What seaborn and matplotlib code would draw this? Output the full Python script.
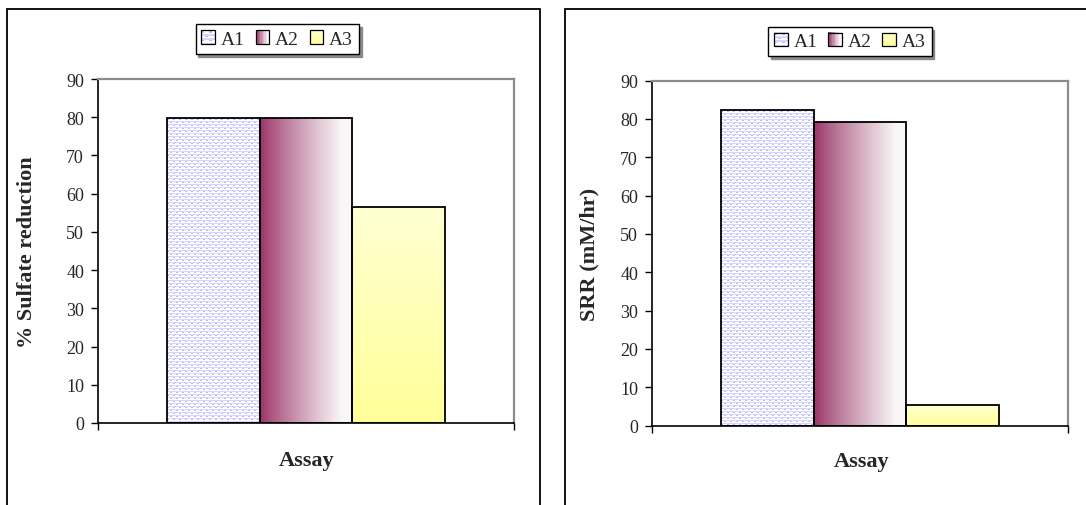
import numpy as np
import pandas as pd
import matplotlib
matplotlib.use("Agg")
import matplotlib.pyplot as plt
import seaborn as sns
from matplotlib.patches import Patch, Rectangle
from matplotlib.legend_handler import HandlerBase
from matplotlib.image import BboxImage
from matplotlib.transforms import Bbox, TransformedBbox

# ---- data ----
assays = ["A1", "A2", "A3"]
sulfate_reduction = [79.7, 79.7, 56.6]   # % sulfate reduction
srr = [82.3, 79.3, 5.4]                  # SRR (mM/hr)
y_ticks = [0, 10, 20, 30, 40, 50, 60, 70, 80, 90]

sns.set_theme(style="white")
plt.rcParams["font.family"] = ["Liberation Serif", "DejaVu Serif"]

W, H = 1086, 506
fig = plt.figure(figsize=(W / 100, H / 100), dpi=100)
fig.patch.set_facecolor("white")


def px_axes(left, right, top, bottom):
    return fig.add_axes([left / W, 1 - bottom / H, (right - left) / W, (bottom - top) / H])


# ---- fill textures ----
def dotted_tile(ny, nx):
    img = np.ones((ny, nx, 3))
    light = np.array([0.84, 0.84, 1.0])
    dark = np.array([0.72, 0.72, 1.0])
    r = np.arange(ny)[:, None]
    c = np.arange(nx)[None, :]
    rr = r % 6
    row_line = (rr == 0) | (rr == 3)
    img[np.broadcast_to(row_line, (ny, nx))] = light
    ticks = ((rr == 1) & (c % 6 < 2)) | ((rr == 4) & ((c + 3) % 6 < 2))
    img[ticks] = dark
    return img


def maroon_fade(ny, nx):
    t = np.linspace(0, 1, nx)
    f = np.clip(t / 0.88, 0, 1) ** 0.85
    start = np.array([0x99, 0x33, 0x66]) / 255
    end = np.array([0xf8, 0xf6, 0xf7]) / 255
    row = start[None, :] * (1 - f[:, None]) + end[None, :] * f[:, None]
    return np.repeat(row[None, :, :], ny, axis=0)


def yellow_fade(ny, nx):
    t = np.linspace(0, 1, ny)
    top = np.array([0xff, 0xff, 0xd2]) / 255
    bot = np.array([0xff, 0xff, 0x99]) / 255
    col = top[None, :] * (1 - t[:, None]) + bot[None, :] * t[:, None]
    return np.repeat(col[:, None, :], nx, axis=1)


fills = [dotted_tile, maroon_fade, yellow_fade]


class ImageHandler(HandlerBase):
    def __init__(self, maker):
        super().__init__()
        self.maker = maker

    def create_artists(self, legend, orig_handle, xdescent, ydescent,
                       width, height, fontsize, trans):
        size = min(width, height)
        x0 = -xdescent + (width - size) / 2
        y0 = -ydescent + (height - size) / 2
        bb = TransformedBbox(Bbox.from_bounds(x0, y0, size, size), trans)
        im = BboxImage(bb, interpolation="nearest", origin="upper")
        im.set_data(self.maker(10, 10))
        rect = Rectangle((x0, y0), size, size, fc="none", ec="black", lw=0.9,
                         transform=trans)
        return [im, rect]


def draw_panel(ax, values, ylabel, legend_anchor):
    df = pd.DataFrame({"Assay": [""] * len(assays), "Series": assays, "value": values})
    sns.barplot(data=df, x="Assay", y="value", hue="Series", hue_order=assays,
                width=0.668, dodge=True, legend=False, ax=ax,
                palette=["white"] * 3, edgecolor="black", linewidth=1.3,
                saturation=1, err_kws={"linewidth": 0})
    ax.set_xlim(-0.5, 0.5)
    ax.set_ylim(0, 90)
    ax.set_yticks(y_ticks)
    ax.set_yticklabels([str(v) for v in y_ticks], fontsize=13)
    ax.set_xticks([-0.5, 0.5])
    ax.set_xticklabels(["", ""])
    ax.tick_params(axis="both", direction="out", length=5, width=1.0,
                   color="black", left=True, bottom=True, pad=5)
    ax.grid(False)
    for side in ("left", "bottom"):
        ax.spines[side].set_color("black")
        ax.spines[side].set_linewidth(1.2)
    for side in ("top", "right"):
        ax.spines[side].set_color("#8c8c8c")
        ax.spines[side].set_linewidth(1.6)
    ax.set_ylabel(ylabel, fontsize=16, fontweight="bold")
    ax.set_xlabel("Assay", fontsize=16, fontweight="bold")

    # texture fills clipped to each bar
    fig.canvas.draw()
    bars = [p for p in ax.patches if p.get_height() > 0]
    bars.sort(key=lambda p: p.get_x())
    for bar, maker in zip(bars, fills):
        bar.set_facecolor("none")
        bar.set_zorder(3)
        ext = bar.get_window_extent()
        nx, ny = max(int(round(ext.width)), 2), max(int(round(ext.height)), 2)
        x0, y0 = bar.get_x(), bar.get_y()
        ax.imshow(maker(ny, nx),
                  extent=(x0, x0 + bar.get_width(), y0, y0 + bar.get_height()),
                  aspect="auto", interpolation="nearest", zorder=2)
    ax.set_xlim(-0.5, 0.5)
    ax.set_ylim(0, 90)

    handles = [Patch(label=a) for a in assays]
    hmap = {h: ImageHandler(m) for h, m in zip(handles, fills)}
    leg = ax.legend(handles=handles, handler_map=hmap, loc="center",
                    bbox_to_anchor=legend_anchor, ncol=3, frameon=True,
                    fontsize=14, handlelength=0.7, handleheight=0.7,
                    handletextpad=0.3, columnspacing=0.55, borderpad=0.3,
                    borderaxespad=0, fancybox=False,
                    shadow={"ox": 2, "oy": -2, "color": "#8a8a8a", "alpha": 1})
    leg.get_frame().set_edgecolor("black")
    leg.get_frame().set_linewidth(1.0)
    return ax


ax1 = px_axes(98, 514, 80, 424)
draw_panel(ax1, sulfate_reduction, "% Sulfate reduction", (0.431, 1.116))
ax1.yaxis.set_label_coords(-0.147, 0.5)
ax1.xaxis.set_label_coords(0.502, -0.078)

ax2 = px_axes(652, 1068, 81.5, 426.5)
draw_panel(ax2, srr, "SRR (mM/hr)", (0.476, 1.113))
ax2.yaxis.set_label_coords(-0.127, 0.5)
ax2.xaxis.set_label_coords(0.505, -0.075)

# chart-area frames
fig.add_artist(Rectangle((7 / W, -0.1), (540 - 7) / W, 1.1 - 10 / H,
                         transform=fig.transFigure, fill=False, ec="black", lw=1.3))
fig.add_artist(Rectangle((565 / W, -0.1), 0.6, 1.1 - 10 / H,
                         transform=fig.transFigure, fill=False, ec="black", lw=1.3))

fig.savefig("out.png", dpi=100, facecolor="white")
